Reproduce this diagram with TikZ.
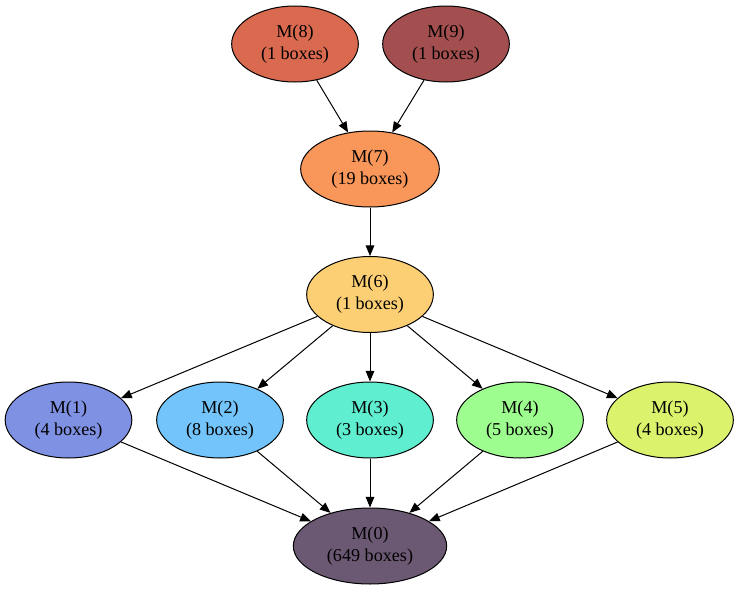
\documentclass[tikz,border=0pt]{standalone}
\usepackage{fontspec}
\setmainfont{Liberation Serif}
\usetikzlibrary{arrows.meta,shapes.geometric}
\definecolor{mEight}{RGB}{217,105,79}
\definecolor{mNine}{RGB}{163,79,79}
\definecolor{mSeven}{RGB}{249,150,90}
\definecolor{mSix}{RGB}{252,207,116}
\definecolor{mOne}{RGB}{127,145,227}
\definecolor{mTwo}{RGB}{115,196,251}
\definecolor{mThree}{RGB}{95,239,208}
\definecolor{mFour}{RGB}{158,253,143}
\definecolor{mFive}{RGB}{219,242,108}
\definecolor{mZero}{RGB}{107,88,115}
\begin{document}
\begin{tikzpicture}[x=0.75pt,y=-0.75pt,
  mnode/.style={ellipse,draw,line width=0.75pt,minimum width=95pt,minimum height=57pt,
    inner sep=0pt,align=center,font=\fontsize{13.6}{16.5}\selectfont},
  dep/.style={-{Triangle[length=8pt,width=6.5pt]},line width=0.75pt}]
\useasboundingbox (0,0) rectangle (740,589);
%top
\node[mnode,fill=mEight] (m8) at (295,44) {M(8)\\(1 boxes)};
\node[mnode,fill=mNine] (m9) at (446,44) {M(9)\\(1 boxes)};
\node[mnode,fill=mSeven,minimum width=104pt] (m7) at (370,169) {M(7)\\(19 boxes)};
\node[mnode,fill=mSix] (m6) at (370,294.5) {M(6)\\(1 boxes)};
%middle row
\node[mnode,fill=mOne] (m1) at (68.5,420) {M(1)\\(4 boxes)};
\node[mnode,fill=mTwo] (m2) at (220,420) {M(2)\\(8 boxes)};
\node[mnode,fill=mThree] (m3) at (370,420) {M(3)\\(3 boxes)};
\node[mnode,fill=mFour] (m4) at (520,420) {M(4)\\(5 boxes)};
\node[mnode,fill=mFive] (m5) at (670,420) {M(5)\\(4 boxes)};
%bottom
\node[mnode,fill=mZero,minimum width=115pt] (m0) at (370,546) {M(0)\\(649 boxes)};

\draw[dep] (m8) -- (m7);
\draw[dep] (m9) -- (m7);
\draw[dep] (m7) -- (m6);
\foreach \k in {1,...,5} {
  \draw[dep] (m6) -- (m\k);
  \draw[dep] (m\k) -- (m0);
}
\end{tikzpicture}
\end{document}
